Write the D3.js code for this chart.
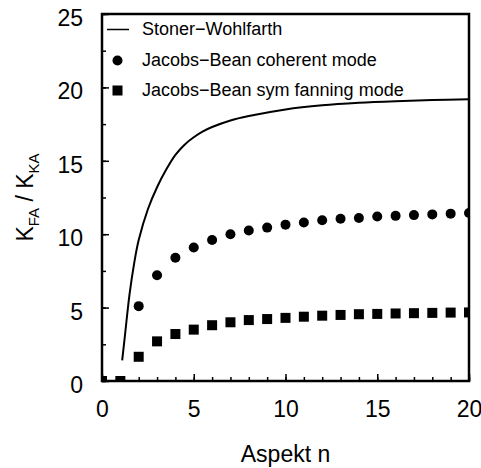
<!DOCTYPE html>
<html>
<head>
<meta charset="utf-8">
<script src="https://cdn.jsdelivr.net/npm/d3@7"></script>
<style>
  html, body { margin: 0; padding: 0; background: #fff; }
  svg { display: block; font-family: "Liberation Sans", Arial, sans-serif; }
</style>
</head>
<body>
<div id="chart"></div>
<script>
// Stoner-Wohlfarth curve
const swN = [1.1, 1.25, 1.5, 1.75, 2, 2.5, 3, 3.5, 4, 4.5, 5, 5.5, 6, 7, 8, 10, 12, 14, 16, 18, 20]
const swK = [1.4, 3.1, 5.9, 8.0, 9.6, 11.7, 13.2, 14.4, 15.4, 16.1, 16.6, 17.0, 17.3, 17.75, 18.05, 18.5, 18.78, 18.95, 19.06, 19.14, 19.2]

// Jacobs-Bean points at integer aspect ratios
const aspect = [0, 1, 2, 3, 4, 5, 6, 7, 8, 9, 10, 11, 12, 13, 14, 15, 16, 17, 18, 19, 20]
const coherent = [0, 0, 5.1, 7.2, 8.4, 9.1, 9.6, 10.0, 10.25, 10.45, 10.65, 10.8, 10.95, 11.05, 11.1, 11.2, 11.25, 11.3, 11.35, 11.4, 11.45]
const fanning = [0, 0, 1.65, 2.7, 3.2, 3.5, 3.8, 4.0, 4.15, 4.22, 4.3, 4.38, 4.45, 4.5, 4.55, 4.57, 4.6, 4.62, 4.64, 4.66, 4.67]

const legendLabels = ['Stoner\u2212Wohlfarth', 'Jacobs\u2212Bean coherent mode', 'Jacobs\u2212Bean sym fanning mode']
const xTicks = [0, 5, 10, 15, 20]
const yTicks = [0, 5, 10, 15, 20, 25]

const width = 481, height = 468
const margin = { top: 14, right: 12, bottom: 87, left: 102 }
const innerWidth = width - margin.left - margin.right
const innerHeight = height - margin.top - margin.bottom

const svg = d3.select('#chart').append('svg')
  .attr('width', width).attr('height', height)

svg.append('defs').append('clipPath').attr('id', 'plot-clip')
  .append('rect').attr('width', innerWidth).attr('height', innerHeight)

const g = svg.append('g').attr('transform', `translate(${margin.left},${margin.top})`)

const x = d3.scaleLinear().domain([0, 20]).range([0, innerWidth])
const y = d3.scaleLinear().domain([0, 25]).range([innerHeight, 0])

// minor ticks
g.append('g').attr('transform', `translate(0,${innerHeight})`)
  .call(d3.axisBottom(x).tickValues(d3.range(0, 21, 1)).tickSize(-4).tickFormat(''))
g.append('g')
  .call(d3.axisLeft(y).tickValues(d3.range(0, 25.1, 2.5)).tickSize(-4).tickFormat(''))

// major ticks + labels
const xAxis = g.append('g').attr('transform', `translate(0,${innerHeight})`)
  .call(d3.axisBottom(x).tickValues(xTicks).tickSize(-7).tickPadding(20))
const yAxis = g.append('g')
  .call(d3.axisLeft(y).tickValues(yTicks).tickSize(-7).tickPadding(19))

g.selectAll('.domain').remove()
g.selectAll('.tick line').attr('stroke', '#000').attr('stroke-width', 1.5)
xAxis.selectAll('text').attr('font-size', 23).attr('fill', '#000')
yAxis.selectAll('text').attr('font-size', 23).attr('fill', '#000').attr('dy', '0.5em')

// data
const plot = g.append('g').attr('clip-path', 'url(#plot-clip)')

const line = d3.line()
  .x(i => x(swN[i])).y(i => y(swK[i]))
  .curve(d3.curveCatmullRom.alpha(0.5))
plot.append('path')
  .attr('d', line(d3.range(swN.length)))
  .attr('fill', 'none').attr('stroke', '#000').attr('stroke-width', 2)

plot.selectAll('circle.coh').data(aspect).join('circle')
  .attr('class', 'coh')
  .attr('cx', (d) => x(d)).attr('cy', (d, i) => y(coherent[i]))
  .attr('r', 5).attr('fill', '#000')

plot.selectAll('rect.fan').data(aspect).join('rect')
  .attr('class', 'fan')
  .attr('x', d => x(d) - 5).attr('y', (d, i) => y(fanning[i]) - 5)
  .attr('width', 10).attr('height', 10).attr('fill', '#000')

// frame
g.append('rect')
  .attr('width', innerWidth).attr('height', innerHeight)
  .attr('fill', 'none').attr('stroke', '#000').attr('stroke-width', 2.5)

// legend
const legendY = [29.5, 60.5, 90.5]
legendLabels.forEach((label, i) => {
  const ly = legendY[i]
  if (i === 0) {
    svg.append('line').attr('x1', 107).attr('x2', 129).attr('y1', ly).attr('y2', ly)
      .attr('stroke', '#000').attr('stroke-width', 1.5)
  } else if (i === 1) {
    svg.append('circle').attr('cx', 117.5).attr('cy', ly).attr('r', 5).attr('fill', '#000')
  } else {
    svg.append('rect').attr('x', 112.5).attr('y', ly - 5).attr('width', 10).attr('height', 10).attr('fill', '#000')
  }
  svg.append('text').attr('x', 142).attr('y', ly).attr('dy', '0.32em')
    .attr('font-size', 18).attr('fill', '#000').text(label)
})

// axis titles
svg.append('text')
  .attr('x', margin.left + innerWidth / 2).attr('y', 461.5)
  .attr('text-anchor', 'middle').attr('font-size', 23).attr('fill', '#000')
  .text('Aspekt n')

const yTitle = svg.append('text')
  .attr('transform', `translate(33,${margin.top + innerHeight / 2}) rotate(-90)`)
  .attr('text-anchor', 'middle').attr('font-size', 23).attr('fill', '#000')
yTitle.append('tspan').text('K')
yTitle.append('tspan').attr('font-size', 15).attr('dy', 6).text('FA')
yTitle.append('tspan').attr('dy', -6).text(' / K')
yTitle.append('tspan').attr('font-size', 15).attr('dy', 6).text('KA')
</script>
</body>
</html>
